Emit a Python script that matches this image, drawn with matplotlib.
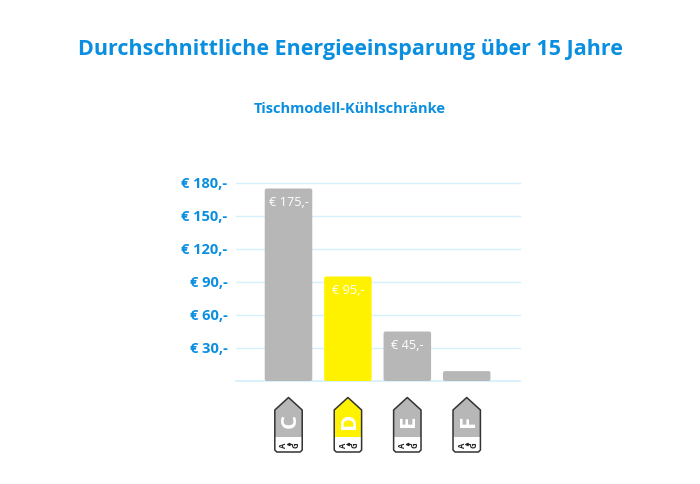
import matplotlib
matplotlib.use("Agg")
import matplotlib.pyplot as plt
from matplotlib.patches import FancyBboxPatch, Polygon
from matplotlib.transforms import ScaledTranslation

plt.rcParams['font.family'] = ['Open Sans', 'DejaVu Sans']

title = "Durchschnittliche Energieeinsparung über 15 Jahre"
subtitle = "Tischmodell-Kühlschränke"
classes = ["C", "D", "E", "F"]
savings = [175, 95, 45, 9]
value_labels = ["€ 175,-", "€ 95,-", "€ 45,-", ""]
bar_colors = ["#b7b7b7", "#fff200", "#b7b7b7", "#b7b7b7"]
y_ticks = [30, 60, 90, 120, 150, 180]
y_tick_labels = ["€ 30,-", "€ 60,-", "€ 90,-", "€ 120,-", "€ 150,-", "€ 180,-"]

BLUE = "#0a8fe0"
GRID = "#d6f0fb"
W, H = 700, 485
fig = plt.figure(figsize=(W/100, H/100), dpi=100, facecolor="white")
ax = fig.add_axes([236/W, 1-382/H, (520-236)/W, (382-184)/H])
ax.set_xlim(-0.884, 3.897)
ax.set_ylim(0, 180)
for s in ax.spines.values():
    s.set_visible(False)
ax.set_xticks([])
ax.set_yticks(y_ticks)
ax.set_yticklabels(y_tick_labels, color=BLUE, fontsize=10.5, fontweight="bold")
ax.tick_params(axis="y", length=0, pad=6.3)
shift = ScaledTranslation(0, 1.3/100, fig.dpi_scale_trans)
for lbl in ax.get_yticklabels():
    lbl.set_verticalalignment("center_baseline")
    lbl.set_transform(lbl.get_transform() + shift)
ax.set_axisbelow(True)
ax.grid(axis="y", color=GRID, lw=1.0)
for gl in ax.get_ygridlines():
    gl.set_clip_on(False)
ax.axhline(0, color=GRID, lw=1.3, zorder=1, clip_on=False)

xpx = (520-236)/(3.897+0.884)
ypx = (382-184)/180
for i, (v, lab, c) in enumerate(zip(savings, value_labels, bar_colors)):
    ax.add_patch(FancyBboxPatch((i-0.4, 0), 0.8, v,
                 boxstyle="round,pad=0,rounding_size=%f" % (2/xpx),
                 mutation_aspect=xpx/ypx, fc=c, ec="none", zorder=3))
    if lab:
        ax.text(i, v-12, lab, color="white", fontsize=9.2, ha="center", va="center", zorder=4)

fig.text(350/W, 1-50/H, title, color=BLUE, fontsize=15.45, fontweight="bold", ha="center", va="center")
fig.text(350/W, 1-109/H, subtitle, color=BLUE, fontsize=10.55, fontweight="bold", ha="center", va="center")

# energy-class tags in pixel overlay
ov = fig.add_axes([0, 0, 1, 1], facecolor="none")
ov.set_xlim(0, W); ov.set_ylim(H, 0); ov.axis("off")
for i, (cl, c) in enumerate(zip(classes, bar_colors)):
    cx = ax.transData.transform((i, 0))[0]
    hw = 13.7
    outline = [(cx-hw, 411), (cx, 398.5), (cx+hw, 411), (cx+hw, 451), (cx+hw-2, 453),
               (cx-hw+2, 453), (cx-hw, 451), (cx-hw, 411)]
    ov.add_patch(Polygon(outline, closed=True, fc="white", ec="none"))
    fill = [(cx-hw, 411), (cx, 398.5), (cx+hw, 411), (cx+hw, 438), (cx-hw, 438)]
    ov.add_patch(Polygon(fill, closed=True, fc=c, ec="none"))
    ov.add_patch(Polygon(outline, closed=True, fc="none", ec="#333333", lw=1.1, joinstyle="round"))
    ov.text(cx+1.3, 420.8, cl, color="white", fontsize=16, fontweight="bold", rotation=90, ha="center", va="center")
    ov.text(cx-4.6, 445.5, "A", color="#222222", fontsize=5.6, fontweight="bold", rotation=90, ha="center", va="center")
    ov.annotate("", xy=(cx-2.2, 445.5), xytext=(cx+3.2, 445.5),
                arrowprops=dict(arrowstyle="-|>", mutation_scale=4, lw=0.9, color="#222222",
                                shrinkA=0, shrinkB=0))
    ov.text(cx+7.4, 445.5, "G", color="#222222", fontsize=5.6, fontweight="bold", rotation=90, ha="center", va="center")

fig.savefig("out.png", dpi=100)
